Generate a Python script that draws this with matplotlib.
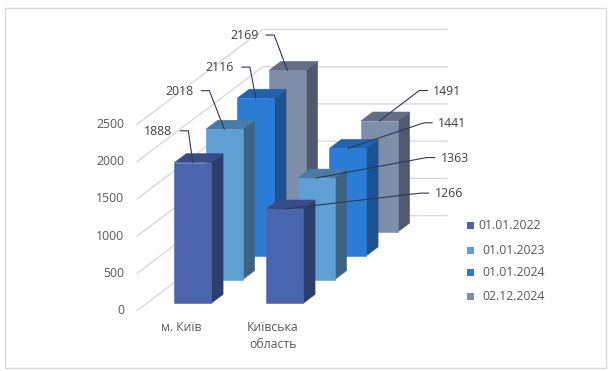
import matplotlib
matplotlib.use("Agg")
import matplotlib.pyplot as plt
from matplotlib.patches import Polygon, Rectangle

plt.rcParams['font.family'] = ['Open Sans', 'DejaVu Sans']

# data
categories = ['м. Київ', 'Київська\nобласть']
series_names = ['01.01.2022', '01.01.2023', '01.01.2024', '02.12.2024']
s_2022 = [1888, 1266]
s_2023 = [2018, 1363]
s_2024 = [2116, 1441]
s_2024_12 = [2169, 1491]
yticks = [0, 500, 1000, 1500, 2000, 2500]

series = [s_2022, s_2023, s_2024, s_2024_12]

# colours: front, top, side
front_c = ['#4a65ad', '#5f9fd4', '#2a7cd5', '#7f8ea9']
top_c = ['#384c89', '#4a7ba6', '#1f63b1', '#636e85']
side_c = ['#2e3e6c', '#3d6283', '#1c5290', '#4f596b']

# oblique projection of the 3d box (pixel space)
X0, Y0 = 137.0, 310.7       # front-left floor corner
CAT_W = 92.0                 # width of one category slot
DX, DY = 31.5, -23.75        # shift for one series step in depth
VS = 186.3 / 2500            # pixels per unit
BW = 0.4                     # bar width (fraction of slot)
BD = 0.375                   # bar depth (fraction of slot)


def proj(x, d, v):
    return (X0 + x * CAT_W + d * DX, Y0 + d * DY - v * VS)


fig = plt.figure(figsize=(6.14, 3.71), dpi=100)
ax = fig.add_axes([0, 0, 1, 1])
ax.set_xlim(0, 614)
ax.set_ylim(371, 0)
ax.axis('off')

ax.add_patch(Rectangle((5, 8), 600.7, 359.7, fill=False, ec='#d9d9d9', lw=1))

ncat = len(categories)
ndep = len(series)

# walls gridlines
for v in yticks:
    p0 = proj(0, 0, v)
    p1 = proj(0, ndep, v)
    p2 = proj(ncat, ndep, v)
    ax.plot([p0[0], p1[0], p2[0]], [p0[1], p1[1], p2[1]], color='#d9d9d9', lw=1, zorder=1)
    ax.text(124, p0[1], str(v), ha='right', va='center', fontsize=8.8, color='#595959')

# category labels
for i, c in enumerate(categories):
    px, py = proj(i + 0.5, 0, 0)
    ax.text(px - 2, py + 10, c, ha='center', va='top', fontsize=8.8, color='#595959',
            linespacing=1.45)

# bars, from back to front
z = 2
anchors = {}
for j in range(ndep - 1, -1, -1):
    d0 = j + (1 - BD) / 2
    d1 = d0 + BD
    for i in range(ncat):
        v = series[j][i]
        x0 = i + (1 - BW) / 2
        x1 = x0 + BW
        side = [proj(x1, d0, 0), proj(x1, d1, 0), proj(x1, d1, v), proj(x1, d0, v)]
        top = [proj(x0, d0, v), proj(x1, d0, v), proj(x1, d1, v), proj(x0, d1, v)]
        front = [proj(x0, d0, 0), proj(x1, d0, 0), proj(x1, d0, v), proj(x0, d0, v)]
        for pts, col in ((side, side_c[j]), (top, top_c[j]), (front, front_c[j])):
            ax.add_patch(Polygon(pts, closed=True, fc=col, ec=col, lw=0.4, zorder=z))
        z += 1
        anchors[(j, i)] = proj((x0 + x1) / 2, d0, v)

# data labels with leader lines (elbow offset from bar top)
elbow_off = {
    (0, 0): (-4.5, -31.8), (1, 0): (-15, -38.5), (2, 0): (-6, -31), (3, 0): (-13.2, -35.4),
    (0, 1): (135.6, -15.8), (1, 1): (110.4, -20.4), (2, 1): (76.2, -25.6), (3, 1): (40, -30.4),
}
for (j, i), (ax_, ay_) in anchors.items():
    ox, oy = elbow_off[(j, i)]
    ex, ey = ax_ + ox, ay_ + oy
    if i == 0:
        hx = ex - 8
        tx, ha = ex - 16, 'right'
    else:
        hx = ex + 8
        tx, ha = ex + 14, 'left'
    ax.plot([hx, ex, ax_], [ey, ey, ay_], color='#2f375a', lw=0.8, zorder=50)
    ax.text(tx, ey + 0.5, str(series[j][i]), ha=ha, va='center', fontsize=8.8,
            color='#404040', zorder=51)

# legend
leg_y = [225.7, 250, 272.3, 296]
leg_tx = [478, 482, 482, 482]
for j, name in enumerate(series_names):
    ax.add_patch(Rectangle((466.5, leg_y[j] - 3.5), 7, 7, fc=front_c[j], ec='none'))
    ax.text(leg_tx[j], leg_y[j], name, ha='left', va='center', fontsize=8.8, color='#595959')

fig.savefig('out.png', dpi=100)
